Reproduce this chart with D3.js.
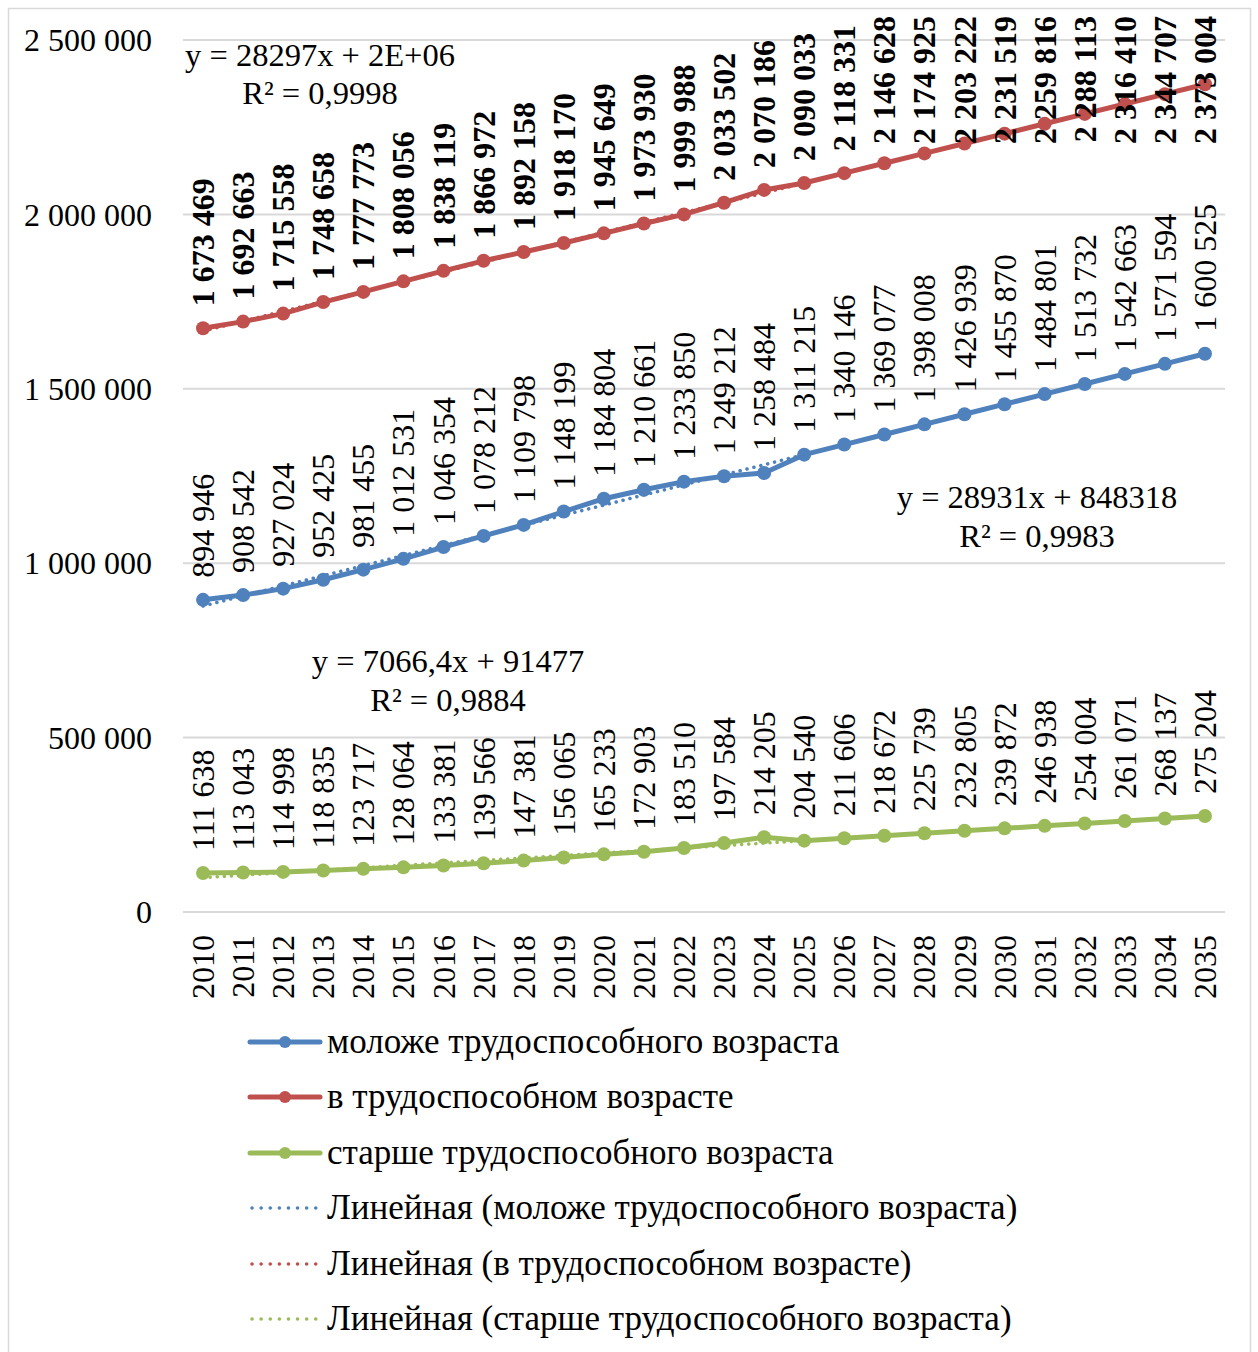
<!DOCTYPE html>
<html><head><meta charset="utf-8">
<script src="https://cdn.jsdelivr.net/npm/d3@7"></script>
<style>body{margin:0;background:#fff}svg{display:block}text{font-family:"Liberation Serif","Times New Roman",serif;fill:#000}</style>
</head><body>
<script>
const years = d3.range(2010, 2036);
const younger = [894946,908542,927024,952425,981455,1012531,1046354,1078212,1109798,1148199,1184804,1210661,1233850,1249212,1258484,1311215,1340146,1369077,1398008,1426939,1455870,1484801,1513732,1542663,1571594,1600525];
const working = [1673469,1692663,1715558,1748658,1777773,1808056,1838119,1866972,1892158,1918170,1945649,1973930,1999988,2033502,2070186,2090033,2118331,2146628,2174925,2203222,2231519,2259816,2288113,2316410,2344707,2373004];
const older = [111638,113043,114998,118835,123717,128064,133381,139566,147381,156065,165233,172903,183510,197584,214205,204540,211606,218672,225739,232805,239872,246938,254004,261071,268137,275204];
const yTicks = [0,500000,1000000,1500000,2000000,2500000];
const seriesNames = ["моложе трудоспособного возраста","в трудоспособном возрасте","старше трудоспособного возраста"];
const trendNames = ["Линейная (моложе трудоспособного возраста)","Линейная (в трудоспособном возрасте)","Линейная (старше трудоспособного возраста)"];
const equations = [["y = 28931x + 848318","R² = 0,9983"],["y = 28297x + 2E+06","R² = 0,9998"],["y = 7066,4x + 91477","R² = 0,9884"]];
const colors = ["#4F81BD","#C0504D","#9BBB59"];

const W=1258,H=1352;
const svg=d3.select("body").append("svg").attr("width",W).attr("height",H);
svg.append("rect").attr("x",8.5).attr("y",8.5).attr("width",1242).attr("height",1360).attr("fill","#fff").attr("stroke","#d9d9d9").attr("stroke-width",1.5);

const x=d3.scaleBand().domain(years).range([183,1225]).padding(0);
const cx=d=>x(d)+x.bandwidth()/2;
const y=d3.scaleLinear().domain([0,2500000]).range([912,40]);
const fmt=v=>d3.format(",")(v).replace(/,/g," ");
const FS=32;

// grid
svg.append("g").selectAll("line").data(yTicks).join("line")
 .attr("x1",183).attr("x2",1225).attr("y1",d=>y(d)).attr("y2",d=>y(d))
 .attr("stroke","#d9d9d9").attr("stroke-width",2);
// y labels
svg.append("g").selectAll("text").data(yTicks).join("text")
 .attr("x",152).attr("y",d=>y(d)).attr("dy","0.35em").attr("text-anchor","end")
 .attr("font-size",FS).text(d=>fmt(d));
// x labels
svg.append("g").selectAll("text").data(years).join("text")
 .attr("transform",d=>`translate(${cx(d)+11},935) rotate(-90)`).attr("text-anchor","end")
 .attr("font-size",FS).text(d=>d);

const all=[younger,working,older];
// trendlines
all.forEach((vals,i)=>{
  const n=vals.length, xs=d3.range(1,n+1);
  const mx=d3.mean(xs), my=d3.mean(vals);
  const b=d3.sum(xs.map((t,k)=>(t-mx)*(vals[k]-my)))/d3.sum(xs.map(t=>(t-mx)*(t-mx)));
  const a=my-b*mx;
  svg.append("line").attr("x1",cx(years[0])).attr("x2",cx(years[n-1]))
   .attr("y1",y(a+b*1)).attr("y2",y(a+b*n))
   .attr("stroke",colors[i]).attr("stroke-width",3.5).attr("stroke-dasharray","0.1,7").attr("stroke-linecap","round");
});
// series lines
const line=d3.line().x((d,k)=>cx(years[k])).y(d=>y(d));
all.forEach((vals,i)=>{
  const g=svg.append("g");
  g.append("path").datum(vals).attr("d",line).attr("fill","none").attr("stroke",colors[i]).attr("stroke-width",5).attr("stroke-linejoin","round");
  g.selectAll("circle").data(vals).join("circle").attr("cx",(d,k)=>cx(years[k])).attr("cy",d=>y(d)).attr("r",7).attr("fill",colors[i]);
});
// data labels (clamped so they stay inside the chart top)
all.forEach((vals,i)=>{
  const g=svg.append("g");
  vals.forEach((d,k)=>{
    const t=g.append("text").attr("font-size",FS).attr("font-weight",i===1?"bold":"normal").text(fmt(d));
    const len=t.node().getComputedTextLength();
    const start=Math.max(y(d)-22, 16+len);
    t.attr("transform",`translate(${cx(years[k])+11},${start}) rotate(-90)`);
  });
});
// equations
const eqPos=[[1037,497,536],[320,55,93],[448,661,700]];
equations.forEach((e,i)=>{
  svg.append("text").attr("x",eqPos[i][0]).attr("y",eqPos[i][1]).attr("dy","0.35em").attr("text-anchor","middle").attr("font-size",32.5).text(e[0]);
  svg.append("text").attr("x",eqPos[i][0]).attr("y",eqPos[i][2]).attr("dy","0.35em").attr("text-anchor","middle").attr("font-size",32.5).text(e[1]);
});
// legend
const legY=[1042,1097,1153,1208,1264,1319];
const legItems=seriesNames.map((n,i)=>({name:n,c:colors[i],trend:false})).concat(trendNames.map((n,i)=>({name:n,c:colors[i],trend:true})));
legItems.forEach((it,i)=>{
  const g=svg.append("g");
  if(!it.trend){
    g.append("line").attr("x1",250).attr("x2",320).attr("y1",legY[i]).attr("y2",legY[i]).attr("stroke",it.c).attr("stroke-width",5).attr("stroke-linecap","round");
    g.append("circle").attr("cx",285).attr("cy",legY[i]).attr("r",6).attr("fill",it.c);
  } else {
    g.append("line").attr("x1",252).attr("x2",316).attr("y1",legY[i]).attr("y2",legY[i]).attr("stroke",it.c).attr("stroke-width",3.5).attr("stroke-dasharray","0.1,9").attr("stroke-linecap","round");
  }
  g.append("text").attr("x",327).attr("y",legY[i]).attr("dy","0.32em").attr("font-size",35).text(it.name);
});
</script>
</body></html>
